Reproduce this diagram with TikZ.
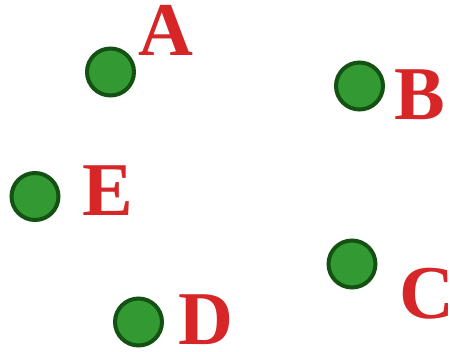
\documentclass[tikz,border=0pt]{standalone}
\usepackage{fontspec}
\setmainfont{Liberation Serif}
\definecolor{dotfill}{RGB}{51,153,51}
\definecolor{dotline}{RGB}{20,82,20}
\definecolor{labred}{RGB}{214,38,40}
\begin{document}
\begin{tikzpicture}[x=1pt,y=-1pt,
  dot/.style={circle,fill=dotfill,draw=dotline,line width=4pt,minimum size=47pt,inner sep=0pt},
  lab/.style={text=labred,font=\fontsize{76}{76}\selectfont\bfseries,inner sep=0pt,anchor=center}]
\useasboundingbox (0,0) rectangle (450,351);
\node[dot] (a) at (110.5,72) {};
\node[dot] (b) at (359.5,86) {};
\node[dot] (e) at (35,196.5) {};
\node[dot] (c) at (352,264) {};
\node[dot] (d) at (138.5,322) {};
\node[lab] (la) at (165.5,30.5) {A};
\node[lab] (lb) at (420,95) {B};
\node[lab] (le) at (107.5,191) {E};
\node[lab] (lc) at (427,293.5) {C};
\node[lab] (ld) at (206,319.5) {D};
\end{tikzpicture}
\end{document}
